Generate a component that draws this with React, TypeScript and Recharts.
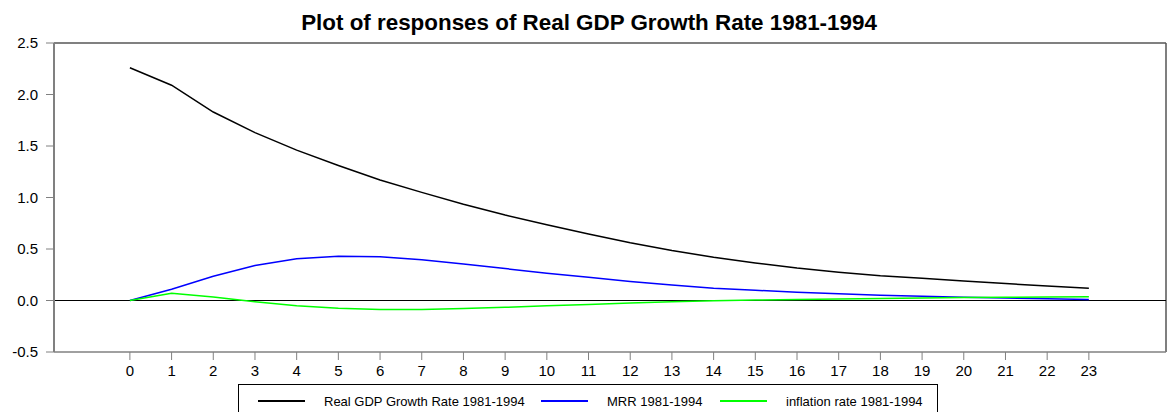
import { LineChart, Line, XAxis, YAxis, ReferenceLine } from "recharts";

// impulse-response horizon (periods)
const steps = [0, 1, 2, 3, 4, 5, 6, 7, 8, 9, 10, 11, 12, 13, 14, 15, 16, 17, 18, 19, 20, 21, 22, 23];

const gdp = [
  2.26, 2.09, 1.83, 1.63, 1.46, 1.31, 1.17, 1.05, 0.935, 0.83, 0.735, 0.645,
  0.56, 0.485, 0.42, 0.365, 0.315, 0.275, 0.24, 0.215, 0.19, 0.165, 0.14, 0.12,
];
const mrr = [
  0, 0.11, 0.235, 0.34, 0.405, 0.43, 0.425, 0.395, 0.355, 0.31, 0.265, 0.225,
  0.185, 0.15, 0.12, 0.1, 0.08, 0.065, 0.052, 0.042, 0.032, 0.024, 0.017, 0.01,
];
const inflation = [
  0, 0.07, 0.035, -0.012, -0.05, -0.075, -0.088, -0.088, -0.078, -0.066, -0.052, -0.038,
  -0.025, -0.013, -0.003, 0.004, 0.01, 0.015, 0.02, 0.024, 0.028, 0.031, 0.034, 0.037,
];

const yTicks = [-0.5, 0, 0.5, 1, 1.5, 2, 2.5];
const xDomain = [-1.82, 24.85];

const series = [
  { key: "gdp", name: "Real GDP Growth Rate 1981-1994", color: "#000000", left: 19 },
  { key: "mrr", name: "MRR 1981-1994", color: "#0000ff", left: 302 },
  { key: "inflation", name: "inflation rate 1981-1994", color: "#00ff00", left: 481 },
];

const data = steps.map((s, i) => ({ step: s, gdp: gdp[i], mrr: mrr[i], inflation: inflation[i] }));

const FONT = '"Liberation Sans", Arial, sans-serif';
const GRAY = "#808080";

export default function App() {
  return (
    <div style={{ position: "absolute", left: 0, top: 0, width: 1167, height: 412, background: "#fff", fontFamily: FONT, overflow: "hidden" }}>
      <div style={{ position: "absolute", left: 0, width: 1178, top: 10, textAlign: "center", fontWeight: "bold", fontSize: 22.4, color: "#000", whiteSpace: "nowrap" }}>
        Plot of responses of Real GDP Growth Rate 1981-1994
      </div>
      <LineChart width={1167} height={412} data={data} margin={{ top: 43, right: 1, bottom: 30, left: 0 }}>
        <XAxis
          dataKey="step"
          type="number"
          domain={xDomain}
          ticks={steps}
          allowDataOverflow
          height={30}
          tickSize={8}
          tickMargin={5}
          axisLine={{ stroke: GRAY, strokeWidth: 1.5 }}
          tickLine={{ stroke: GRAY }}
          tick={{ fill: "#000", fontSize: 15, fontFamily: FONT }}
        />
        <YAxis
          type="number"
          domain={[-0.5, 2.5]}
          ticks={yTicks}
          width={54}
          tickSize={8}
          tickMargin={8}
          tickFormatter={(v) => Number(v).toFixed(1)}
          axisLine={{ stroke: GRAY, strokeWidth: 2 }}
          tickLine={{ stroke: GRAY }}
          tick={{ fill: "#000", fontSize: 15, fontFamily: FONT }}
        />
        <ReferenceLine y={2.5} stroke={GRAY} strokeWidth={2} />
        <ReferenceLine x={xDomain[1]} stroke="#555" strokeWidth={1.5} />
        <ReferenceLine y={0} stroke="#000" strokeWidth={1} />
        {series.map((s) => (
          <Line key={s.key} type="linear" dataKey={s.key} name={s.name} stroke={s.color} strokeWidth={1.5} dot={false} isAnimationActive={false} />
        ))}
      </LineChart>
      <div style={{ position: "absolute", left: 238, top: 384, width: 700, height: 40, border: "1px solid #000", boxSizing: "border-box", fontSize: 13, color: "#000" }}>
        {series.map((s) => (
          <div key={s.key} style={{ position: "absolute", left: s.left, top: 8, height: 16, display: "flex", alignItems: "center", whiteSpace: "nowrap" }}>
            <svg width={47} height={10}>
              <line x1={0} x2={47} y1={5} y2={5} stroke={s.color} strokeWidth={2} />
            </svg>
            <span style={{ marginLeft: 19 }}>{s.name}</span>
          </div>
        ))}
      </div>
    </div>
  );
}
